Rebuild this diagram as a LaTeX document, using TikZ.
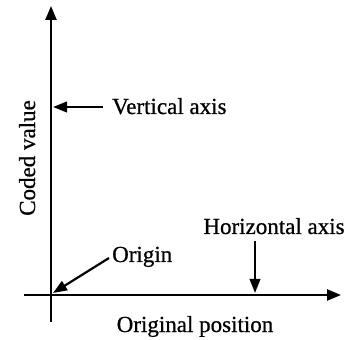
\documentclass[tikz,border=0pt]{standalone}
\usepackage{fontspec}
\setmainfont{Liberation Serif}[FakeBold=0.7]
\usetikzlibrary{arrows.meta}
\begin{document}
\begin{tikzpicture}[x=1pt,y=1pt,
  axis/.style={line width=2.5pt,-{Triangle[length=14pt,width=11pt]}},
  pointer/.style={line width=2.2pt,-{Triangle[length=14pt,width=10.5pt]}},
  lbl/.style={font=\fontsize{23}{26}\selectfont,inner sep=0pt}]
\useasboundingbox (0,0) rectangle (352,339);
% axes
\coordinate (vbot) at (51,17);
\coordinate (vtop) at (51,333);
\coordinate (hleft) at (24,44);
\coordinate (hright) at (341,44);
\draw[axis] (vbot) -- (vtop);
\draw[axis] (hleft) -- (hright);
% tips
\coordinate (vtip) at (53,232);
\coordinate (htip) at (255,46);
\coordinate (otip) at (53,46);
% labels
\node[lbl,anchor=base west] (vtext) at (112,225) {Vertical axis};
\node[lbl,anchor=base] (htext) at (274,105) {Horizontal axis};
\node[lbl,anchor=base west] (otext) at (112,77) {Origin};
\node[lbl,anchor=base] (xtitle) at (195,7) {Original position};
\node[lbl,anchor=base,rotate=90] (ytitle) at (35,181) {Coded value};
% pointer starts
\coordinate (vstart) at ([xshift=-9pt]vtext.base west |- vtip);
\coordinate (hbase) at ([yshift=-7pt]htext.base);
\coordinate (ostart) at ([xshift=-3pt,yshift=4pt]otext.base west);
% pointers
\draw[pointer] (vstart) -- (vtip);
\draw[pointer] (hbase -| htip) -- (htip);
\draw[pointer] (ostart) -- (otip);
\end{tikzpicture}
\end{document}
